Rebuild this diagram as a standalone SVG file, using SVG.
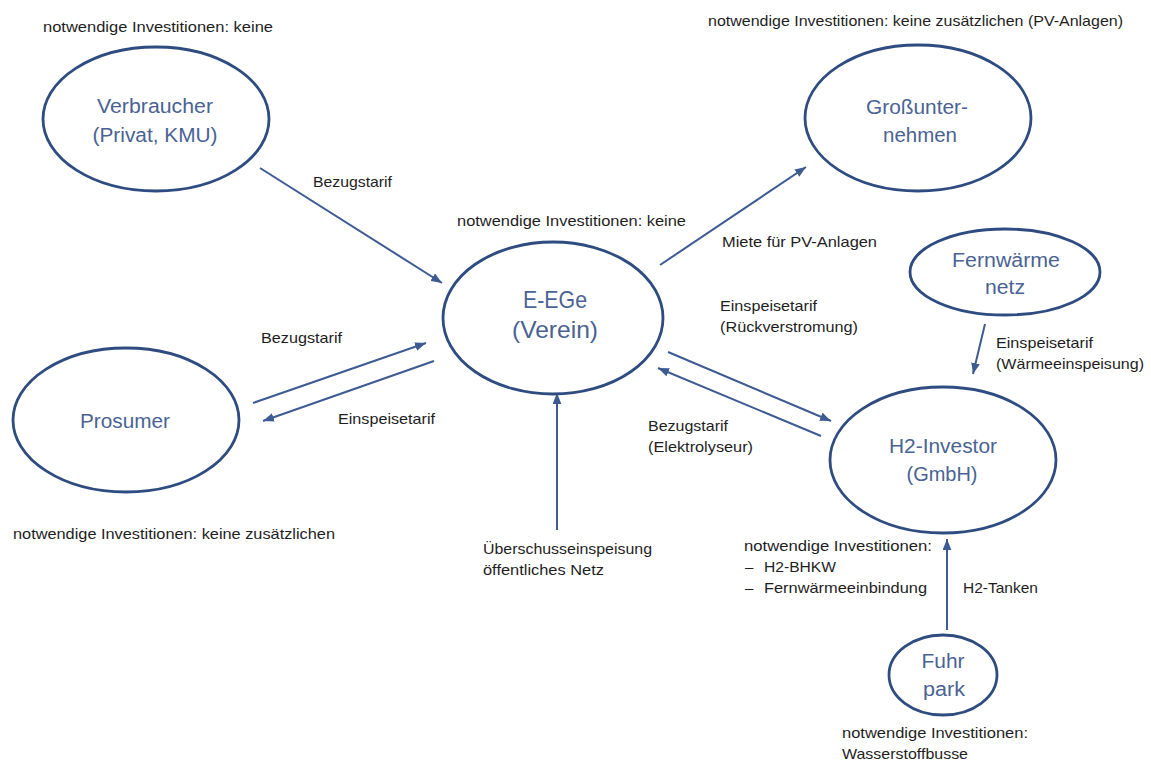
<svg xmlns="http://www.w3.org/2000/svg" width="1151" height="763" viewBox="0 0 1151 763">
<defs>
<marker id="ah" viewBox="0 0 10 8" refX="10" refY="4" markerWidth="11" markerHeight="9" markerUnits="userSpaceOnUse" orient="auto">
<path d="M0,0 L10,4 L0,8 z" fill="#3D5A93"/>
</marker>
<style>
.node ellipse{fill:#fff;stroke:#2F4C80;stroke-width:2.8}
.nt{font-family:"Liberation Sans",Arial,sans-serif;font-size:20px;fill:#4A6393;text-anchor:middle}
.big{font-size:24px}
.lbl{font-family:"Liberation Sans",Arial,sans-serif;font-size:15px;fill:#1e1e1e}
.conn line{stroke:#3D5A93;stroke-width:2;marker-end:url(#ah)}
</style>
</defs>
<rect width="1151" height="763" fill="#fff"/>

<g id="connectors" class="conn">
<line x1="260" y1="168" x2="442" y2="283"/>
<line x1="660" y1="265" x2="806" y2="167"/>
<line x1="253" y1="403" x2="426" y2="343"/>
<line x1="434" y1="361" x2="263" y2="421"/>
<line x1="668" y1="352" x2="831" y2="421"/>
<line x1="821" y1="436" x2="658" y2="368"/>
<line x1="985" y1="324" x2="973" y2="374"/>
<line x1="557" y1="530" x2="557" y2="393"/>
<line x1="947" y1="630" x2="947" y2="539"/>
</g>

<g id="verbraucher" class="node">
<ellipse cx="156" cy="119" rx="113" ry="72"/>
<text class="nt" x="155" y="113" textLength="116" lengthAdjust="spacingAndGlyphs">Verbraucher</text>
<text class="nt" x="155" y="142" textLength="125" lengthAdjust="spacingAndGlyphs">(Privat, KMU)</text>
</g>

<g id="grossunternehmen" class="node">
<ellipse cx="918" cy="118" rx="113" ry="73"/>
<text class="nt" x="917" y="114" textLength="102" lengthAdjust="spacingAndGlyphs">Großunter-</text>
<text class="nt" x="920" y="142" textLength="74" lengthAdjust="spacingAndGlyphs">nehmen</text>
</g>

<g id="eege" class="node">
<ellipse cx="553" cy="318" rx="110" ry="76"/>
<text class="nt big" x="555" y="308" textLength="64" lengthAdjust="spacingAndGlyphs">E-EGe</text>
<text class="nt big" x="555" y="338" textLength="86" lengthAdjust="spacingAndGlyphs">(Verein)</text>
</g>

<g id="fernwaerme" class="node">
<ellipse cx="1005" cy="272" rx="95" ry="43"/>
<text class="nt" x="1006" y="267" textLength="108" lengthAdjust="spacingAndGlyphs">Fernwärme</text>
<text class="nt" x="1005" y="294" textLength="40" lengthAdjust="spacingAndGlyphs">netz</text>
</g>

<g id="prosumer" class="node">
<ellipse cx="126" cy="420" rx="113" ry="72"/>
<text class="nt" x="125" y="428" textLength="90" lengthAdjust="spacingAndGlyphs">Prosumer</text>
</g>

<g id="h2investor" class="node">
<ellipse cx="943" cy="460" rx="113" ry="73"/>
<text class="nt" x="943" y="453" textLength="108" lengthAdjust="spacingAndGlyphs">H2-Investor</text>
<text class="nt" x="942" y="481" textLength="71" lengthAdjust="spacingAndGlyphs">(GmbH)</text>
</g>

<g id="fuhrpark" class="node">
<ellipse cx="943" cy="675" rx="54" ry="40"/>
<text class="nt" x="943" y="668" textLength="43" lengthAdjust="spacingAndGlyphs">Fuhr</text>
<text class="nt" x="944" y="696" textLength="42" lengthAdjust="spacingAndGlyphs">park</text>
</g>

<g id="labels">
<text class="lbl" x="43" y="32" textLength="230" lengthAdjust="spacingAndGlyphs">notwendige Investitionen: keine</text>
<text class="lbl" x="708" y="26" textLength="415" lengthAdjust="spacingAndGlyphs">notwendige Investitionen: keine zusätzlichen (PV-Anlagen)</text>
<text class="lbl" x="313" y="187" textLength="79" lengthAdjust="spacingAndGlyphs">Bezugstarif</text>
<text class="lbl" x="457" y="226" textLength="229" lengthAdjust="spacingAndGlyphs">notwendige Investitionen: keine</text>
<text class="lbl" x="722" y="247" textLength="155" lengthAdjust="spacingAndGlyphs">Miete für PV-Anlagen</text>
<text class="lbl" x="720" y="311" textLength="97" lengthAdjust="spacingAndGlyphs">Einspeisetarif</text>
<text class="lbl" x="720" y="332" textLength="138" lengthAdjust="spacingAndGlyphs">(Rückverstromung)</text>
<text class="lbl" x="996" y="348" textLength="97" lengthAdjust="spacingAndGlyphs">Einspeisetarif</text>
<text class="lbl" x="996" y="369" textLength="148" lengthAdjust="spacingAndGlyphs">(Wärmeeinspeisung)</text>
<text class="lbl" x="261" y="343" textLength="81" lengthAdjust="spacingAndGlyphs">Bezugstarif</text>
<text class="lbl" x="338" y="424" textLength="97" lengthAdjust="spacingAndGlyphs">Einspeisetarif</text>
<text class="lbl" x="648" y="431" textLength="80" lengthAdjust="spacingAndGlyphs">Bezugstarif</text>
<text class="lbl" x="648" y="452" textLength="105" lengthAdjust="spacingAndGlyphs">(Elektrolyseur)</text>
<text class="lbl" x="13" y="539" textLength="322" lengthAdjust="spacingAndGlyphs">notwendige Investitionen: keine zusätzlichen</text>
<text class="lbl" x="483" y="554" textLength="169" lengthAdjust="spacingAndGlyphs">Überschusseinspeisung</text>
<text class="lbl" x="483" y="575" textLength="121" lengthAdjust="spacingAndGlyphs">öffentliches Netz</text>
<text class="lbl" x="744" y="551" textLength="188" lengthAdjust="spacingAndGlyphs">notwendige Investitionen:</text>
<text class="lbl" x="745" y="572">–</text>
<text class="lbl" x="764" y="572" textLength="72" lengthAdjust="spacingAndGlyphs">H2-BHKW</text>
<text class="lbl" x="745" y="593">–</text>
<text class="lbl" x="764" y="593" textLength="163" lengthAdjust="spacingAndGlyphs">Fernwärmeeinbindung</text>
<text class="lbl" x="963" y="593" textLength="75" lengthAdjust="spacingAndGlyphs">H2-Tanken</text>
<text class="lbl" x="842" y="738" textLength="186" lengthAdjust="spacingAndGlyphs">notwendige Investitionen:</text>
<text class="lbl" x="842" y="759" textLength="126" lengthAdjust="spacingAndGlyphs">Wasserstoffbusse</text>
</g>
</svg>
